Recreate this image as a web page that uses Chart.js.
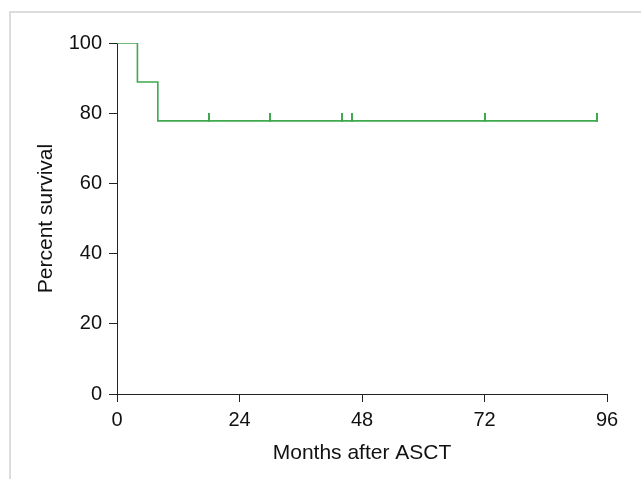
<!DOCTYPE html>
<html>
<head>
<meta charset="utf-8">
<title>Percent survival</title>
<script src="https://cdn.jsdelivr.net/npm/chart.js@4/dist/chart.umd.min.js"></script>
<style>
  html, body { margin: 0; padding: 0; background: #fff; overflow: hidden; }
  #wrap { position: relative; width: 641px; height: 479px; }
  #frame {
    position: absolute; left: 9px; top: 11px; width: 700px; height: 500px;
    border-top: 2px solid #dcdcdc; border-left: 2px solid #dcdcdc;
    pointer-events: none;
  }
</style>
</head>
<body>
<div id="wrap">
  <canvas id="survival" width="641" height="479"></canvas>
  <div id="frame"></div>
</div>
<script>
// Kaplan-Meier steps (months, percent)
var stepMonths = [0, 4, 8, 94];
var stepPercent = [100, 88.9, 77.8, 77.8];

// censored patients
var censorMonths = [18, 30, 44, 46, 72, 94];
var censorPercent = [77.8, 77.8, 77.8, 77.8, 77.8, 77.8];

// axis ticks
var xTicks = [0, 24, 48, 72, 96];
var yTicks = [0, 20, 40, 60, 80, 100];

var green = '#3fa94f';

// censor mark: short vertical line sitting on top of the curve
var censorMark = document.createElement('canvas');
censorMark.width = 2;
censorMark.height = 16;
var cctx = censorMark.getContext('2d');
cctx.fillStyle = green;
cctx.fillRect(0, 0, 2, 9);

var stepData = stepMonths.map(function (m, i) { return { x: m, y: stepPercent[i] } });
var censorData = censorMonths.map(function (m, i) { return { x: m, y: censorPercent[i] } });

function fixedTicks(list) {
  return function (scale) {
    scale.ticks = list.map(function (v) { return { value: v } });
  }
}

var survivalChart = new Chart(document.getElementById('survival'), {
  type: 'line',
  data: {
    datasets: [
      {
        data: stepData,
        stepped: 'before',
        borderColor: green,
        borderWidth: 1.6,
        fill: false,
        pointRadius: 0
      },
      {
        data: censorData,
        showLine: false,
        pointStyle: censorMark,
        pointRadius: 8,
        pointHoverRadius: 8
      }
    ]
  },
  options: {
    responsive: false,
    animation: false,
    layout: {
      padding: { left: 0, top: 43, right: 34, bottom: 0 }
    },
    plugins: {
      legend: { display: false },
      tooltip: { enabled: false }
    },
    scales: {
      x: {
        type: 'linear',
        min: 0,
        max: 96,
        afterBuildTicks: fixedTicks(xTicks),
        afterFit: function (scale) { scale.height = 85 },
        border: { display: true, color: '#222', width: 1 },
        grid: { drawOnChartArea: false, drawTicks: true, tickLength: 8, color: '#222' },
        ticks: {
          padding: 6,
          color: '#111',
          font: { family: 'Liberation Sans, Arial', size: 20 }
        },
        title: {
          display: true,
          text: 'Months after ASCT',
          color: '#111',
          padding: { top: 0, bottom: 13 },
          font: { family: 'Liberation Sans, Arial', size: 21 }
        }
      },
      y: {
        min: 0,
        max: 100,
        afterBuildTicks: fixedTicks(yTicks),
        afterFit: function (scale) { scale.width = 117 },
        border: { display: true, color: '#222', width: 1 },
        grid: { drawOnChartArea: false, drawTicks: true, tickLength: 8, color: '#222' },
        ticks: {
          padding: 7,
          color: '#111',
          font: { family: 'Liberation Sans, Arial', size: 20 }
        },
        title: {
          display: true,
          text: 'Percent survival',
          color: '#111',
          padding: { top: 34, bottom: 0 },
          font: { family: 'Liberation Sans, Arial', size: 21 }
        }
      }
    }
  }
});
</script>
</body>
</html>
